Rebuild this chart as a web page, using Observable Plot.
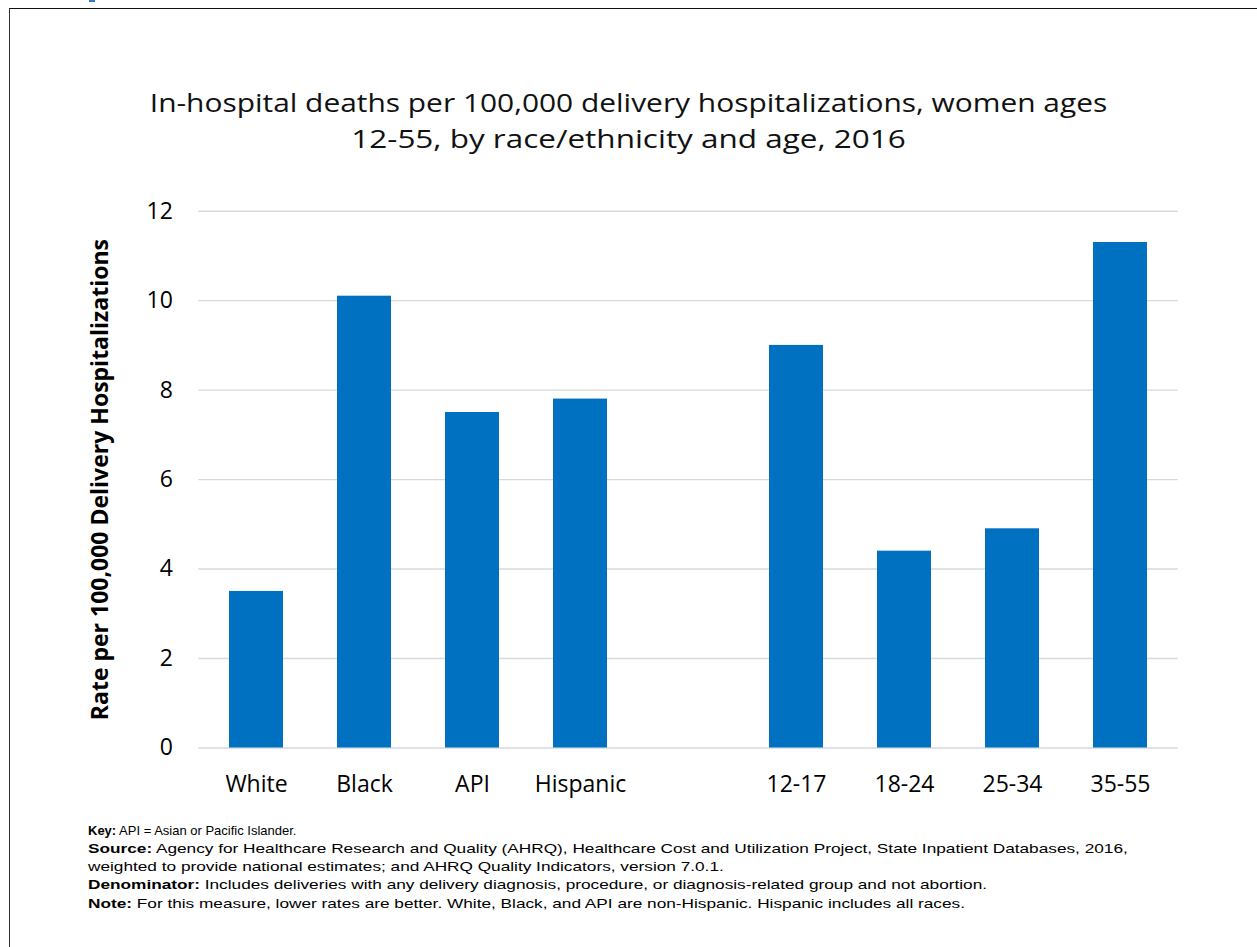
<!DOCTYPE html>
<html>
<head>
<meta charset="utf-8">
<script src="https://cdn.jsdelivr.net/npm/d3@7"></script>
<script src="https://cdn.jsdelivr.net/npm/@observablehq/plot@0.6"></script>
<style>
  html, body { margin: 0; padding: 0; background: #fff; }
  #wrap { position: relative; width: 1257px; height: 947px; overflow: hidden; background: #fff; }
  #frame { position: absolute; left: 9px; top: 8px; width: 1300px; height: 1000px;
           border-top: 1.8px solid #111; border-left: 1.6px solid #333; }
  #corner { position: absolute; left: 89px; top: 0; width: 6px; height: 2px; background: #2b7fd6; }
  #title { position: absolute; left: 0; top: 83.5px; width: 1257px; text-align: center;
           font-family: "Open Sans", sans-serif; font-size: 26px; line-height: 36.3px; color: #111; }
  #title .tl { transform-origin: 50% 50%; white-space: nowrap; }
  #chart { position: absolute; left: 0; top: 190px; }
  #notes { position: absolute; left: 88px; top: 822.2px; white-space: nowrap;
           font-family: "Liberation Sans", Arial, sans-serif; font-size: 13px; line-height: 18.1px; color: #000; }
  #notes .nl { width: max-content; transform-origin: 0 50%; transform: scaleX(1.325); }
  #notes .nl.key { transform: scaleX(1.0); }
  #notes b { font-weight: bold; }
  #chart g[aria-label="y-axis label"] text { font-weight: bold; font-size: 23px; }
</style>
</head>
<body>
<div id="wrap">
  <div id="frame"></div>
  <div id="corner"></div>
  <div id="title">
    <div class="tl" style="transform: scaleX(1.15)">In-hospital deaths per 100,000 delivery hospitalizations, women ages</div>
    <div class="tl" style="transform: scaleX(1.21)">12-55, by race/ethnicity and age, 2016</div>
  </div>
  <div id="chart"></div>
  <div id="notes">
    <div class="nl key"><b>Key:</b> API = Asian or Pacific Islander.</div>
    <div class="nl"><b>Source:</b> Agency for Healthcare Research and Quality (AHRQ), Healthcare Cost and Utilization Project, State Inpatient Databases, 2016,</div>
    <div class="nl">weighted to provide national estimates; and AHRQ Quality Indicators, version 7.0.1.</div>
    <div class="nl"><b>Denominator:</b> Includes deliveries with any delivery diagnosis, procedure, or diagnosis-related group and not abortion.</div>
    <div class="nl"><b>Note:</b> For this measure, lower rates are better. White, Black, and API are non-Hispanic. Hispanic includes all races.</div>
  </div>
</div>
<script>
// ---- data ----
const races = ["White", "Black", "API", "Hispanic"];
const raceRates = [3.5, 10.1, 7.5, 7.8];
const ages = ["12-17", "18-24", "25-34", "35-55"];
const ageRates = [9.0, 4.4, 4.9, 11.3];
const gapSlot = " ";            // empty category between the two groups
const yTicks = [0, 2, 4, 6, 8, 10, 12];
const yLabel = "Rate per 100,000 Delivery Hospitalizations";

const rows = [
  ...races.map((c, i) => ({category: c, rate: raceRates[i]})),
  ...ages.map((c, i) => ({category: c, rate: ageRates[i]}))
];
const xDomain = [...races, gapSlot, ...ages];

const chart = Plot.plot({
  width: 1257,
  height: 618,
  marginLeft: 198.3,
  marginRight: 79.3,
  marginTop: 20.7,
  marginBottom: 60.5,
  style: {fontFamily: "'Open Sans', sans-serif", fontSize: "23px", color: "#000", background: "transparent", overflow: "visible"},
  x: {domain: xDomain, paddingInner: 0.5, paddingOuter: 0.25, label: null},
  y: {domain: [0, 12], label: null},
  marks: [
    Plot.gridY(yTicks, {stroke: "#d9d9d9", strokeOpacity: 1, strokeWidth: 1.4}),
    Plot.barY(rows, {x: "category", y: "rate", fill: "#0070C0"}),
    Plot.axisY(yTicks, {tickSize: 0, tickPadding: 26, label: yLabel, labelAnchor: "center", labelArrow: "none", labelOffset: 107, fill: "#000"}),
    Plot.axisX({tickSize: 0, tickPadding: 27.5, label: null, fill: "#000"})
  ]
});
document.getElementById("chart").appendChild(chart);
</script>
</body>
</html>
